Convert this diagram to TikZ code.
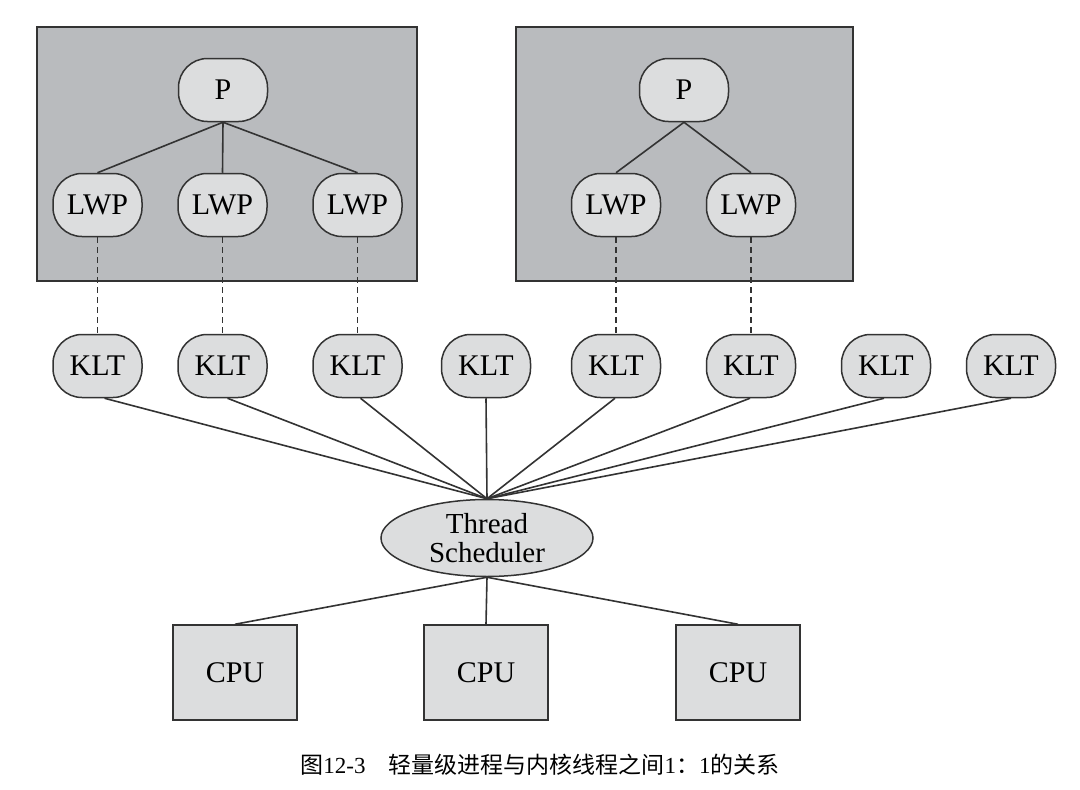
\documentclass[tikz,border=0pt]{standalone}
\usepackage{fontspec}
\setmainfont{Liberation Serif}
\newfontfamily\cjk{Noto Sans CJK SC}
\usetikzlibrary{shapes.geometric}
\definecolor{boxgray}{HTML}{B9BBBE}
\definecolor{nodegray}{HTML}{DCDDDE}
\definecolor{edge}{HTML}{333333}
\tikzset{
  procbox/.style={draw=edge, line width=1.6pt, fill=boxgray},
  pill/.style={draw=edge, line width=1.5pt, fill=nodegray, rectangle, rounded corners=29pt,
    minimum width=89pt, minimum height=63pt, inner sep=0pt, font=\fontsize{30}{32}\selectfont},
  cpubox/.style={draw=edge, line width=1.5pt, fill=nodegray, rectangle,
    minimum width=124pt, minimum height=95pt, inner sep=0pt, font=\fontsize{30}{32}\selectfont},
  sched/.style={draw=edge, line width=1.5pt, fill=nodegray, ellipse,
    minimum width=212pt, minimum height=77pt, inner sep=0pt, align=center,
    font=\fontsize{29}{29.5}\selectfont},
  link/.style={draw=edge, line width=1.6pt},
  dlink/.style={draw=edge, line width=1.1pt, dash pattern=on 6pt off 4pt},
}
\begin{document}
\begin{tikzpicture}[x=1pt,y=-1pt]
\useasboundingbox[fill=white] (0,0) rectangle (1080,790);
% process boxes
\path[procbox] (37,27) rectangle (417,281);
\path[procbox] (516,27) rectangle (853,281);
% left process
\node[pill] (p1) at (223,90) {P};
\node[pill] (l1) at (97.5,205) {LWP};
\node[pill] (l2) at (222.5,205) {LWP};
\node[pill] (l3) at (357.5,205) {LWP};
% right process
\node[pill] (p2) at (684,90) {P};
\node[pill] (l4) at (616,205) {LWP};
\node[pill] (l5) at (751,205) {LWP};
% KLTs
\node[pill] (k1) at (97.5,366) {KLT};
\node[pill] (k2) at (222.5,366) {KLT};
\node[pill] (k3) at (357.5,366) {KLT};
\node[pill] (k4) at (486,366) {KLT};
\node[pill] (k5) at (616,366) {KLT};
\node[pill] (k6) at (751,366) {KLT};
\node[pill] (k7) at (886,366) {KLT};
\node[pill] (k8) at (1011,366) {KLT};
% scheduler
\node[sched] (ts) at (487,538) {Thread\\Scheduler};
% CPUs
\node[cpubox] (c1) at (235,672.5) {CPU};
\node[cpubox] (c2) at (486,672.5) {CPU};
\node[cpubox] (c3) at (738,672.5) {CPU};
% P to LWP
\foreach \l in {l1,l2,l3} \draw[link] (p1.south) -- (\l.north);
\foreach \l in {l4,l5} \draw[link] (p2.south) -- (\l.north);
% LWP to KLT dashed
\draw[dlink] (l1.south) -- (k1.north);
\draw[dlink] (l2.south) -- (k2.north);
\draw[dlink] (l3.south) -- (k3.north);
\draw[dlink] (l4.south) -- (k5.north);
\draw[dlink] (l5.south) -- (k6.north);
% KLT to scheduler
\draw[link] ([xshift=7pt]k1.south) -- (ts.north);
\draw[link] ([xshift=5pt]k2.south) -- (ts.north);
\draw[link] ([xshift=3pt]k3.south) -- (ts.north);
\draw[link] (k4.south) -- (ts.north);
\draw[link] ([xshift=-1pt]k5.south) -- (ts.north);
\draw[link] ([xshift=-1pt]k6.south) -- (ts.north);
\draw[link] ([xshift=-2pt]k7.south) -- (ts.north);
\draw[link] (k8.south) -- (ts.north);
% scheduler to CPU
\foreach \c in {c1,c2,c3} \draw[link] (ts.south) -- (\c.north);
% caption
\node[anchor=base] (cap) at (540,773) {\fontsize{23}{26}\selectfont {\cjk 图}12-3\hspace{1em}{\cjk 轻量级进程与内核线程之间}1{\cjk ：}1{\cjk 的关系}};
\end{tikzpicture}
\end{document}
